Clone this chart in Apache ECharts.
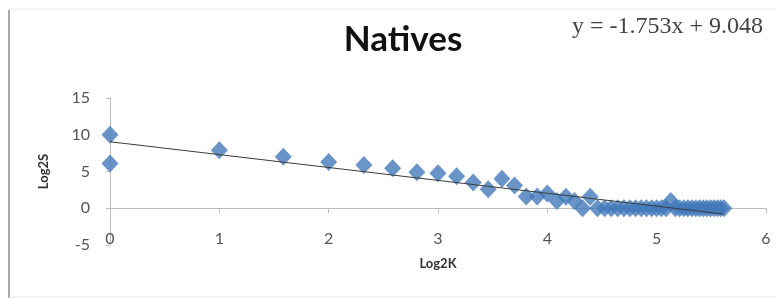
<!DOCTYPE html>
<html>
<head>
<meta charset="utf-8">
<script src="https://cdn.jsdelivr.net/npm/echarts@6/dist/echarts.min.js"></script>
<style>
  html, body { margin: 0; padding: 0; background: #fff; }
  #chart { width: 777px; height: 300px; }
</style>
</head>
<body>
<div id="chart"></div>
<script>
// Log2K / Log2S points
const log2K = [0, 0, 1, 1.585, 2, 2.322, 2.585, 2.807, 3, 3.17, 3.322, 3.459, 3.585, 3.7, 3.807, 3.907, 4,
  4.087, 4.17, 4.248, 4.322, 4.392, 4.459, 4.524, 4.585, 4.644, 4.7, 4.755, 4.807, 4.858, 4.907, 4.954,
  5, 5.044, 5.087, 5.129, 5.17, 5.209, 5.248, 5.285, 5.322, 5.358, 5.392, 5.426, 5.459, 5.492, 5.524,
  5.555, 5.585, 5.615]
const log2S = [10, 6.1, 7.9, 7.0, 6.3, 5.9, 5.45, 4.9, 4.75, 4.35, 3.5, 2.6, 4.0, 3.1, 1.6, 1.6, 2.0,
  1.0, 1.58, 1.0, 0, 1.58, 0, 0, 0, 0, 0, 0, 0, 0, 0, 0,
  0, 0, 0, 1, 0, 0, 0, 0, 0, 0, 0, 0, 0, 0, 0,
  0, 0, 0]

// linear trendline shown in the chart
const trendSlope = -1.753
const trendIntercept = 9.048
const equationText = 'y = -1.753x + 9.048'

const xTicks = [0, 6, 1]
const yTicks = [-5, 15, 5]

const points = log2K.map((x, i) => [x, log2S[i]])
const xEnd = Math.max(...log2K)
const trend = [
  [0, trendIntercept],
  [xEnd, trendSlope * xEnd + trendIntercept]
]

const chart = echarts.init(document.getElementById('chart'), null, {
  width: 777,
  height: 300
})

const labelFont = 'Lato, "Open Sans", sans-serif'

chart.setOption({
  animation: false,
  title: {
    text: 'Natives',
    left: 398,
    top: 17,
    textAlign: 'center',
    textStyle: {
      fontFamily: labelFont,
      fontSize: 35,
      fontWeight: 'bold',
      color: '#111'
    }
  },
  grid: {
    top: 98,
    bottom: 55,
    left: 110,
    right: 11,
  },
  xAxis: [
    {
      type: 'value',
      min: xTicks[0],
      max: xTicks[1],
      interval: xTicks[2],
      position: 'bottom',
      axisLine: { onZero: true, lineStyle: { color: '#bdbdbd', width: 1 } },
      axisTick: { show: true, length: 5, lineStyle: { color: '#bdbdbd' } },
      axisLabel: { show: false },
      splitLine: { show: false }
    },
    {
      type: 'value',
      min: xTicks[0],
      max: xTicks[1],
      interval: xTicks[2],
      position: 'bottom',
      axisLine: { show: false, onZero: false },
      axisTick: { show: false },
      splitLine: { show: false },
      axisLabel: {
        margin: -14,
        fontFamily: labelFont,
        fontSize: 16,
        color: '#555'
      },
      name: 'Log2K',
      nameLocation: 'middle',
      nameGap: 12,
      nameTextStyle: {
        fontFamily: labelFont,
        fontSize: 13,
        fontWeight: 'bold',
        color: '#333'
      }
    }
  ],
  yAxis: {
    type: 'value',
    min: yTicks[0],
    max: yTicks[1],
    interval: yTicks[2],
    axisLine: { show: true, lineStyle: { color: '#bdbdbd', width: 1 } },
    axisTick: { show: true, length: 4, lineStyle: { color: '#bdbdbd' } },
    splitLine: { show: false },
    axisLabel: {
      margin: 20,
      fontFamily: labelFont,
      fontSize: 16,
      color: '#555'
    },
    name: 'Log2S',
    nameLocation: 'middle',
    nameGap: 60,
    nameTextStyle: {
      fontFamily: labelFont,
      fontSize: 13,
      fontWeight: 'bold',
      color: '#333'
    }
  },
  graphic: [
    {
      type: 'text',
      right: 14,
      top: 15,
      style: {
        text: equationText,
        fontFamily: '"Liberation Serif", "DejaVu Serif", serif',
        fontSize: 24,
        fill: '#444'
      }
    },
    {
      type: 'line',
      shape: { x1: 9, y1: 10, x2: 9, y2: 298 },
      style: { stroke: '#8c8c8c', lineWidth: 1.5 }
    },
    {
      type: 'line',
      shape: { x1: 9, y1: 9, x2: 777, y2: 9 },
      style: { stroke: '#ececec', lineWidth: 1 }
    },
    {
      type: 'line',
      shape: { x1: 9, y1: 297, x2: 777, y2: 297 },
      style: { stroke: '#e6e6e6', lineWidth: 1 }
    }
  ],
  series: [
    {
      name: 'Natives',
      type: 'scatter',
      symbol: 'diamond',
      symbolSize: [17, 18],
      itemStyle: { color: '#4279ba' },
      data: points,
      z: 2
    },
    {
      name: 'Trend',
      type: 'line',
      symbol: 'none',
      lineStyle: { color: '#3a3a3a', width: 1 },
      data: trend,
      z: 3
    }
  ]
}, true)
</script>
</body>
</html>
